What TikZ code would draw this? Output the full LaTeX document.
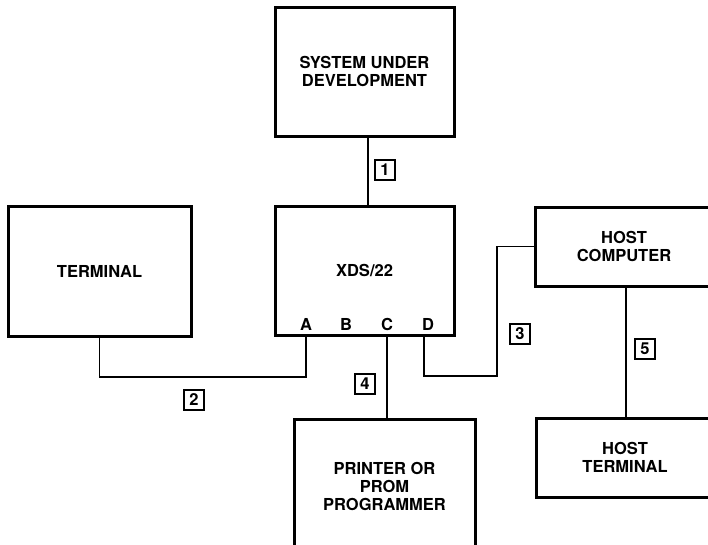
\documentclass[tikz,border=0pt]{standalone}
\usepackage{fontspec}
\setmainfont{TeX Gyre Heros}
\begin{document}
\begin{tikzpicture}[x=1pt,y=-1pt,
  blk/.style={draw=black,line width=3pt,rectangle,inner sep=0pt,align=center,
     font=\bfseries\fontsize{16.5}{18}\selectfont},
  port/.style={inner sep=0pt,font=\bfseries\fontsize{16.5}{18}\selectfont},
  wire/.style={draw=black,line width=1.5pt},
  tag/.style={draw=black,line width=1.4pt,rectangle,inner sep=0pt,minimum width=20pt,minimum height=20pt,
     font=\bfseries\fontsize{16.5}{16.5}\selectfont}]
\useasboundingbox (0,0) rectangle (708,544);
\clip (0,0) rectangle (708,544);
\fill[white] (0,0) rectangle (708,544);
% blocks
\node[blk,minimum width=179pt,minimum height=129pt] (sud) at (364.5,71.5) {SYSTEM UNDER\\DEVELOPMENT};
\node[blk,minimum width=179pt,minimum height=129pt] (xds) at (364.5,270.5) {XDS/22};
\node[blk,minimum width=183pt,minimum height=130pt] (term) at (99.5,271) {TERMINAL};
\node[blk,minimum width=178pt,minimum height=79pt] (host) at (624,246.5) {HOST\\COMPUTER};
\node[blk,minimum width=178pt,minimum height=79pt] (hterm) at (625,457.5) {HOST\\TERMINAL};
\node[blk,minimum width=181pt,minimum height=134pt] (prn) at (384.5,486) {PRINTER OR\\PROM\\PROGRAMMER};
% ports
\node[port] (pA) at (306,324) {A};
\node[port] (pB) at (346,324) {B};
\node[port] (pC) at (387,324) {C};
\node[port] (pD) at (428,324) {D};
% routing coordinates
\coordinate (x1) at (368,0);
\coordinate (xA) at (306,0);
\coordinate (xD) at (424,0);
\coordinate (x5) at (626,0);
\coordinate (j2) at (306,377);
\coordinate (j3) at (497,376);
% connectors
\draw[wire] (x1 |- sud.south) -- (x1 |- xds.north);
\draw[wire] (term.south) |- (j2) -- (xA |- xds.south);
\draw[wire] (pC |- xds.south) -- (pC |- prn.north);
\draw[wire] (xD |- xds.south) |- (j3) |- (host.west);
\draw[wire] (x5 |- host.south) -- (x5 |- hterm.north);
% tags
\node[tag] (t1) at (385,170) {1};
\node[tag] (t2) at (194,400) {2};
\node[tag] (t3) at (520,334) {3};
\node[tag] (t4) at (365,384) {4};
\node[tag] (t5) at (645,349) {5};
\end{tikzpicture}
\end{document}
